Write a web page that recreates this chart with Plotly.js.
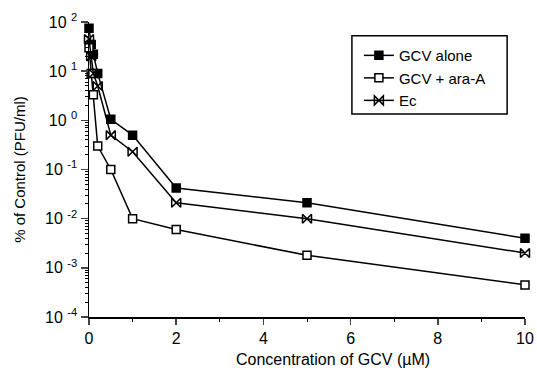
<!DOCTYPE html>
<html>
<head>
<meta charset="utf-8">
<script src="https://cdn.plot.ly/plotly-3.0.1.min.js"></script>
<style>html,body{margin:0;padding:0;background:#fff;}#chart{width:537px;height:376px;}</style>
</head>
<body>
<div id="chart"></div>
<script>
const concentration = [0, 0.05, 0.1, 0.2, 0.5, 1, 2, 5, 10];
const gcvAlone = [75, 35, 22, 9, 1.05, 0.5, 0.042, 0.021, 0.004];
const gcvAraA = [30, 9, 3.3, 0.3, 0.1, 0.01, 0.006, 0.0018, 0.00045];
const ec = [45, 20, 9, 5, 0.5, 0.23, 0.021, 0.01, 0.002];
const seriesNames = ["GCV alone", "GCV + ara-A", "Ec"];
const yTickVals = [1e-4, 1e-3, 1e-2, 1e-1, 1, 10, 100];
const yTickText = ["10&nbsp;<sup>-4</sup>", "10&nbsp;<sup>-3</sup>", "10&nbsp;<sup>-2</sup>", "10&nbsp;<sup>-1</sup>", "10&nbsp;<sup>0</sup>", "10&nbsp;<sup>1</sup>", "10&nbsp;<sup>2</sup>"];
const xTickVals = [0, 2, 4, 6, 8, 10];
const xTitle = "Concentration of GCV (µM)";
const yTitle = "% of Control (PFU/ml)";

const font = "Liberation Sans, Arial, sans-serif";
function tr(y, name, symbol, fill, size) {
  return {
    x: concentration, y: y, name: name, type: "scatter", mode: "lines+markers",
    line: {color: "#000", width: 1.5},
    marker: {symbol: symbol, size: size, color: fill, line: {color: "#000", width: 1.5}},
    cliponaxis: false
  };
}
const data = [
  tr(gcvAlone, seriesNames[0], "square", "#000", 8),
  tr(gcvAraA, seriesNames[1], "square", "#fff", 8),
  tr(ec, seriesNames[2], "bowtie-open", "#000", 9)
];
const layout = {
  width: 537, height: 376,
  margin: {l: 89, r: 12, t: 22, b: 59},
  paper_bgcolor: "#fff", plot_bgcolor: "#fff",
  font: {family: font, color: "#000", size: 14},
  showlegend: true,
  legend: {x: 0.619, y: 0.942, xanchor: "left", yanchor: "top",
           borderwidth: 0, bgcolor: "rgba(0,0,0,0)",
           font: {family: font, size: 15}, tracegroupgap: 0},
  shapes: [{type: "rect", xref: "paper", yref: "paper", x0: 0.603, x1: 0.959, y0: 0.688, y1: 0.953,
            line: {color: "#000", width: 1.5}, fillcolor: "rgba(0,0,0,0)", layer: "below"}],
  annotations: [{text: xTitle, xref: "paper", yref: "paper", x: 0.56, y: -0.145,
                 xanchor: "center", yanchor: "middle", showarrow: false,
                 font: {family: font, size: 16}}],
  xaxis: {
    range: [0, 10], tickvals: xTickVals, ticks: "outside", ticklen: 6, tickwidth: 1.5,
    showline: true, linecolor: "#000", linewidth: 1.5, showgrid: false, zeroline: false,
    tickfont: {family: font, size: 16},
    minor: {dtick: 1, ticks: "outside", ticklen: 3, tickwidth: 1, tickcolor: "#000", showgrid: false}
  },
  yaxis: {
    type: "log", range: [-4, 2], tickvals: yTickVals, ticktext: yTickText,
    ticks: "outside", ticklen: 7, tickwidth: 1.5,
    showline: true, linecolor: "#000", linewidth: 1.5, showgrid: false, zeroline: false,
    tickfont: {family: font, size: 16},
    minor: {dtick: "D1", ticks: "outside", ticklen: 3, tickwidth: 1, tickcolor: "#000", showgrid: false},
    title: {text: yTitle, font: {family: font, size: 15}, standoff: 16}
  }
};
Plotly.newPlot("chart", data, layout, {displayModeBar: false, staticPlot: true});
</script>
</body>
</html>
